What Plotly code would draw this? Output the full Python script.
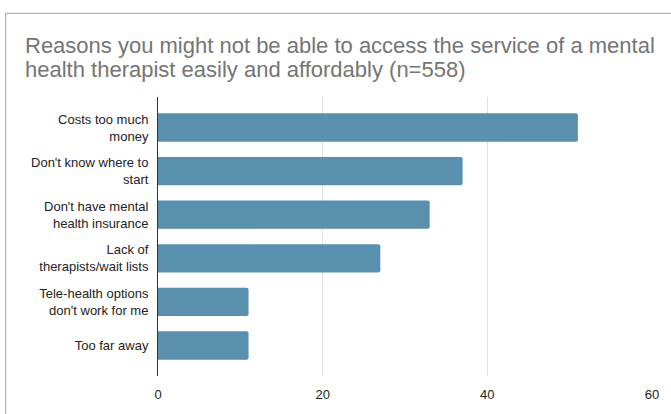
import plotly.graph_objects as go

# Survey responses (count of respondents per reason)
reasons = [
    "Costs too much<br>money",
    "Don't know where to<br>start",
    "Don't have mental<br>health insurance",
    "Lack of<br>therapists/wait lists",
    "Tele-health options<br>don't work for me",
    "Too far away",
]
counts = [51, 37, 33, 27, 11, 11]
x_ticks = [0, 20, 40, 60]
title_lines = [
    "Reasons you might not be able to access the service of a mental",
    "health therapist easily and affordably (n=558)",
]

W, H = 671, 414
M_L, M_R, M_T, M_B = 158, 15, 97, 32
plot_w = W - M_L - M_R
plot_h = H - M_T - M_B


def px_x(p):
    return (p - M_L) / plot_w


def px_y(p):
    return (H - M_B - p) / plot_h


fig = go.Figure(
    go.Bar(
        x=counts,
        y=reasons,
        orientation="h",
        marker=dict(color="#5990ae", line=dict(width=0), cornerradius=2),
        width=0.65,
        hoverinfo="x+y",
    )
)

# Frame lines along the top and left of the card
fig.add_shape(type="line", xref="paper", yref="paper",
              x0=px_x(4.5), x1=px_x(W + 5), y0=px_y(11.5), y1=px_y(11.5),
              line=dict(color="#a0a0a0", width=1))
fig.add_shape(type="line", xref="paper", yref="paper",
              x0=px_x(4.5), x1=px_x(4.5), y0=px_y(11.5), y1=px_y(H + 10),
              line=dict(color="#a0a0a0", width=1))

# Two-line chart title, set with tighter line spacing
for line, centre in zip(title_lines, [44.5, 69.0]):
    fig.add_annotation(
        text=line, showarrow=False,
        xref="paper", yref="paper",
        x=px_x(22), y=px_y(centre), xanchor="left", yanchor="middle",
        font=dict(family="Liberation Sans, Arial, sans-serif", size=22, color="#757575"),
    )

fig.update_layout(
    width=W,
    height=H,
    margin=dict(l=M_L, r=M_R, t=M_T, b=M_B),
    paper_bgcolor="white",
    plot_bgcolor="white",
    font=dict(family="Liberation Sans, Arial, sans-serif", size=13, color="#222222"),
    showlegend=False,
    xaxis=dict(
        range=[0, 60],
        tickvals=x_ticks,
        showgrid=True,
        gridcolor="#e0e0e0",
        gridwidth=1,
        zeroline=False,
        showline=False,
        ticks="outside",
        ticklen=6,
        tickcolor="rgba(0,0,0,0)",
        tickfont=dict(size=13, color="#222222"),
    ),
    yaxis=dict(
        categoryorder="array",
        categoryarray=reasons,
        autorange=False,
        range=[5.7, -0.7],
        showgrid=False,
        zeroline=False,
        showline=True,
        linecolor="#333333",
        linewidth=1,
        ticks="",
        ticklabelstandoff=6,
        tickfont=dict(size=13, color="#222222"),
    ),
)

fig.write_html("out.html")
